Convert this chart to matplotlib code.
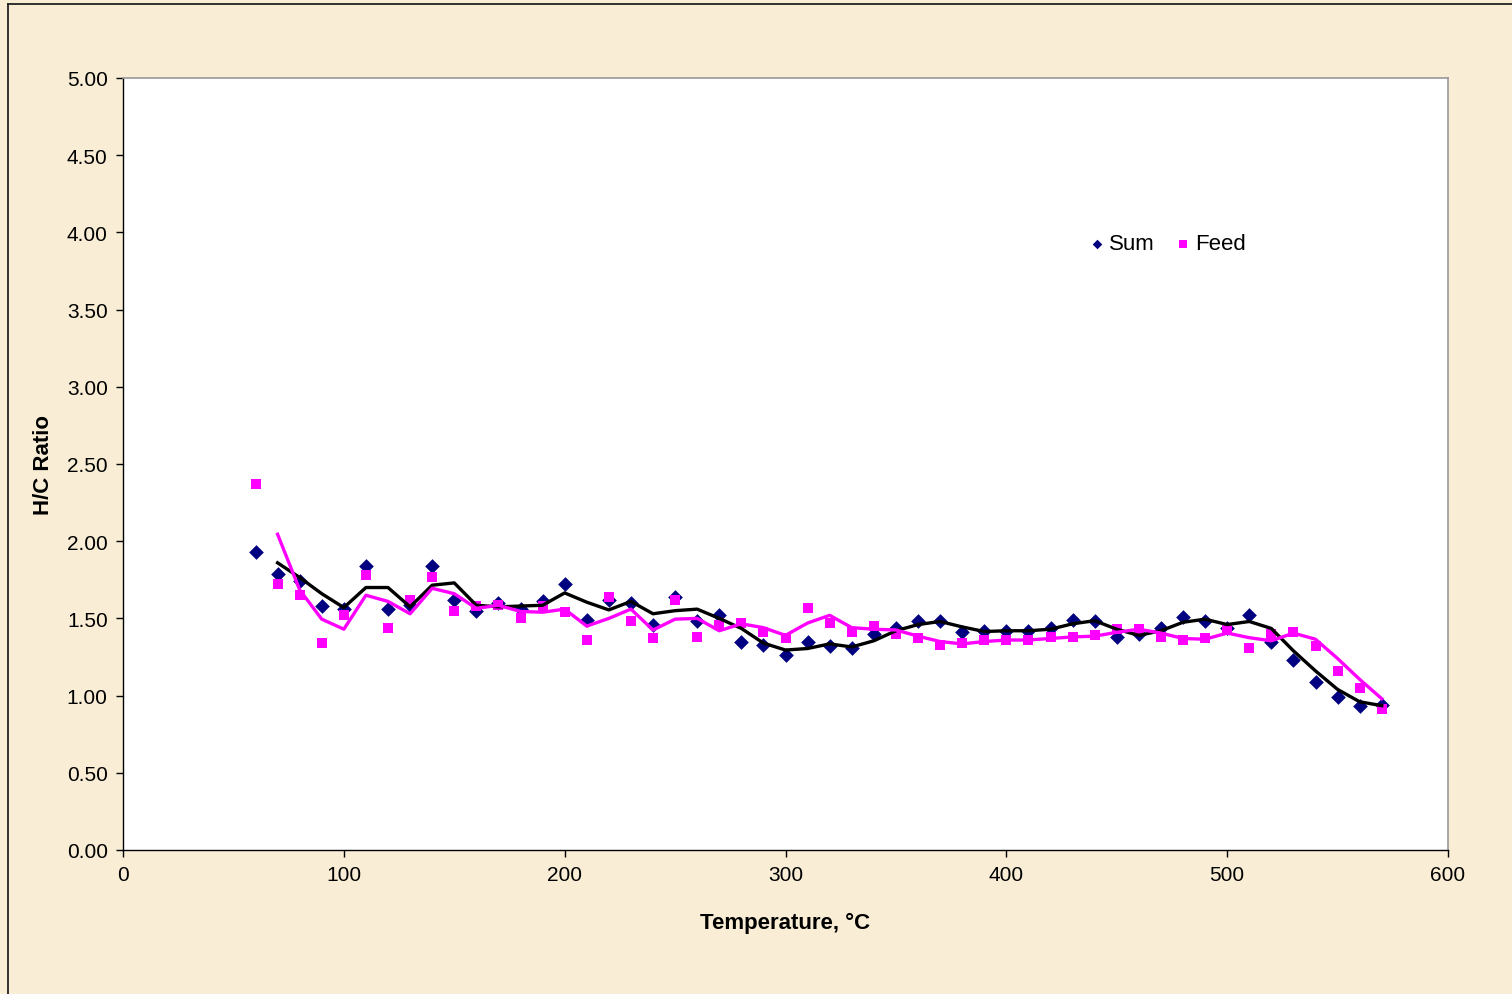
import matplotlib
matplotlib.use("Agg")
import matplotlib.pyplot as plt
import numpy as np
import pandas as pd
from matplotlib.lines import Line2D

plt.rcParams['font.family'] = ['Liberation Sans', 'DejaVu Sans']

temperature = list(range(60, 580, 10))
sum_ratio = [1.93, 1.79, 1.74, 1.58, 1.56, 1.84, 1.56, 1.59, 1.84, 1.62,
             1.55, 1.60, 1.56, 1.61, 1.72, 1.49, 1.62, 1.60, 1.46, 1.64,
             1.48, 1.52, 1.35, 1.33, 1.26, 1.35, 1.32, 1.31, 1.40, 1.44,
             1.48, 1.48, 1.41, 1.42, 1.42, 1.42, 1.44, 1.49, 1.48, 1.38,
             1.40, 1.44, 1.51, 1.48, 1.44, 1.52, 1.35, 1.23, 1.09, 0.99,
             0.93, 0.94]
feed_ratio = [2.37, 1.72, 1.65, 1.34, 1.52, 1.78, 1.44, 1.62, 1.77, 1.55,
              1.58, 1.59, 1.50, 1.58, 1.54, 1.36, 1.64, 1.48, 1.37, 1.62,
              1.38, 1.46, 1.47, 1.41, 1.37, 1.57, 1.47, 1.41, 1.45, 1.40,
              1.37, 1.33, 1.34, 1.36, 1.36, 1.36, 1.38, 1.38, 1.39, 1.43,
              1.43, 1.38, 1.36, 1.37, 1.44, 1.31, 1.40, 1.41, 1.32, 1.16,
              1.05, 0.91]
x_ticks = [0, 100, 200, 300, 400, 500, 600]
y_ticks = [0.0, 0.5, 1.0, 1.5, 2.0, 2.5, 3.0, 3.5, 4.0, 4.5, 5.0]

df = pd.DataFrame({'T': temperature, 'Sum': sum_ratio, 'Feed': feed_ratio})
df['Sum_ma'] = df['Sum'].rolling(2).mean()
df['Feed_ma'] = df['Feed'].rolling(2).mean()

W, H = 1512, 995
fig = plt.figure(figsize=(W / 100, H / 100), dpi=100)
fig.patch.set_facecolor('#F9EED5')
# outer chart border (left and top visible)
fig.add_artist(Line2D([8 / W, 8 / W], [0, 1 - 5 / H], transform=fig.transFigure,
                      color='#222222', lw=1.3))
fig.add_artist(Line2D([8 / W, 1], [1 - 5 / H, 1 - 5 / H], transform=fig.transFigure,
                      color='#222222', lw=1.3))

ax = fig.add_axes([123 / W, (H - 851) / H, 1325 / W, 772 / H])
ax.set_facecolor('white')

ax.scatter(df['T'], df['Sum'], marker='D', s=56, color='#000080', label='Sum', zorder=3, linewidths=0)
ax.scatter(df['T'], df['Feed'], marker='s', s=62, color='#FF00FF', label='Feed', zorder=3, linewidths=0)
ax.plot(df['T'], df['Sum_ma'], color='black', lw=2.4, zorder=4)
ax.plot(df['T'], df['Feed_ma'], color='#FF00FF', lw=2.4, zorder=4)

ax.set_xlim(0, 600)
ax.set_ylim(0, 5)
ax.set_xticks(x_ticks)
ax.set_yticks(y_ticks)
ax.set_yticklabels([f'{v:.2f}' for v in y_ticks])
ax.tick_params(direction='out', length=5, width=1, labelsize=15, color='black', pad=6)

for s in ['left', 'bottom']:
    ax.spines[s].set_color('black')
    ax.spines[s].set_linewidth(1)
for s in ['top', 'right']:
    ax.spines[s].set_color('#999999')
    ax.spines[s].set_linewidth(1.2)

ax.set_xlabel('Temperature, °C', fontsize=16, fontweight='bold', labelpad=20)
ax.set_ylabel('H/C Ratio', fontsize=16, fontweight='bold', labelpad=9)

leg = ax.legend(loc='center', bbox_to_anchor=((1167 - 123) / 1325, (851 - 245) / 772),
                ncol=2, frameon=False, fontsize=16, handletextpad=0.15,
                handlelength=0.8, columnspacing=0.9, markerscale=0.65)

fig.savefig('out.png', dpi=100, facecolor=fig.get_facecolor())
